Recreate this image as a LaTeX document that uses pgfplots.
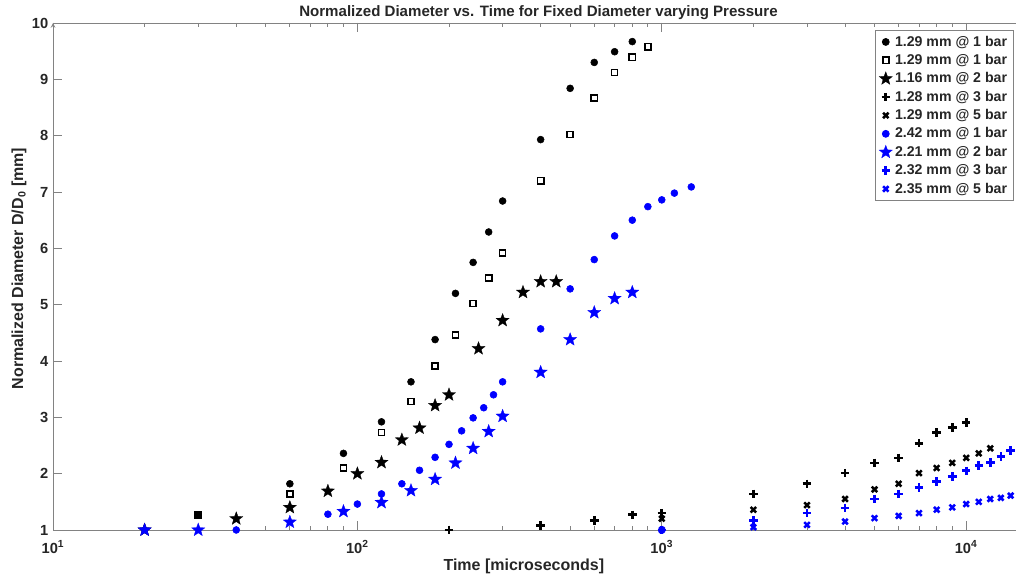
\documentclass[border=0pt]{standalone}
\usepackage{pgfplots}
\pgfplotsset{compat=1.18}
\usepackage{fontspec}
\setmainfont{Liberation Sans}
\definecolor{mblue}{RGB}{0,0,255}
\definecolor{axgray}{RGB}{130,130,130}
\definecolor{txt}{RGB}{38,38,38}
\pgfdeclareplotmark{fstar}{%
  \pgfpathmoveto{\pgfpointpolar{90}{\pgfplotmarksize}}%
  \pgfpathlineto{\pgfpointpolar{126}{0.42\pgfplotmarksize}}%
  \pgfpathlineto{\pgfpointpolar{162}{\pgfplotmarksize}}%
  \pgfpathlineto{\pgfpointpolar{198}{0.42\pgfplotmarksize}}%
  \pgfpathlineto{\pgfpointpolar{234}{\pgfplotmarksize}}%
  \pgfpathlineto{\pgfpointpolar{270}{0.42\pgfplotmarksize}}%
  \pgfpathlineto{\pgfpointpolar{306}{\pgfplotmarksize}}%
  \pgfpathlineto{\pgfpointpolar{342}{0.42\pgfplotmarksize}}%
  \pgfpathlineto{\pgfpointpolar{18}{\pgfplotmarksize}}%
  \pgfpathlineto{\pgfpointpolar{54}{0.42\pgfplotmarksize}}%
  \pgfpathclose
  \pgfusepathqfillstroke
}
\begin{document}
\begin{tikzpicture}
\begin{axis}[
  scale only axis,
  width=722.25pt, height=380.25pt,
  xmode=log,
  xmin=10, xmax=14580,
  ymin=1, ymax=10,
  ytick={1,2,...,10},
  xtick={10,100,1000,10000},
  xticklabels={10\textsuperscript{1},10\textsuperscript{2},10\textsuperscript{3},10\textsuperscript{4}},
  /pgf/number format/assume math mode=true,
  axis x line=box,
  axis y line=left,
  axis line style={axgray, line width=0.6pt},
  every axis x line/.append style={-},
  every axis y line/.append style={-},
  tick style={axgray, line width=0.6pt},
  tick align=inside,
  major tick length=6.5pt,
  minor tick length=3.2pt,
  ticklabel style={font=\bfseries\fontsize{11pt}{13pt}\selectfont, text=txt},
  xticklabel style={yshift=-4.5pt},
  title={\bfseries Normalized Diameter vs. Time for Fixed Diameter varying Pressure},
  title style={font=\fontsize{11.3pt}{13pt}\selectfont, text=txt, at={(axis description cs:0.5,1)}, anchor=center, yshift=1.5pt, xshift=3pt},
  xlabel={\bfseries Time [microseconds]},
  ylabel={\bfseries Normalized Diameter D/D\textsubscript{0} [mm]},
  label style={font=\fontsize{12pt}{14pt}\selectfont, text=txt},
  xlabel style={at={(axis description cs:0.5,0)}, anchor=center, yshift=-27pt, xshift=-8pt},
  ylabel style={at={(axis description cs:0,0.5)}, anchor=center, yshift=25.5pt, xshift=6pt},
  legend style={at={(rel axis cs:0.998,0.986)}, anchor=north east, draw=axgray, line width=0.6pt,
    font=\bfseries\fontsize{10.6pt}{12.4pt}\selectfont, text=txt, row sep=0.6pt, inner xsep=3pt, inner ysep=2pt},
  legend image code/.code={\draw[#1] plot coordinates {(0.3cm,0cm)};},
  legend cell align=left,
  clip=false,
]
% 1.29 mm @ 1 bar (filled circle)
\addplot[only marks, mark=*, mark size=2.6pt, black] coordinates {
(30,1.27) (60,1.82) (90,2.36) (120,2.92) (150,3.63) (180,4.38) (210,5.20) (240,5.75) (270,6.29) (300,6.84) (400,7.93) (500,8.84) (600,9.30) (700,9.49) (800,9.67)};
\addlegendentry{1.29 mm @ 1 bar}
% 1.29 mm @ 1 bar (open square)
\addplot[only marks, mark=square, mark size=2.3pt, black, line width=1.2pt] coordinates {
(30,1.27) (60,1.64) (90,2.10) (120,2.73) (150,3.28) (180,3.91) (210,4.46) (240,5.02) (270,5.47) (300,5.92) (400,7.20) (500,8.02) (600,8.67) (700,9.12) (800,9.39) (900,9.58)};
\addlegendentry{1.29 mm @ 1 bar}
% 1.16 mm @ 2 bar (star)
\addplot[only marks, mark=fstar, mark size=5.2pt, black, mark options={fill=black, line width=0.2pt}] coordinates {
(20,1.00) (40,1.20) (60,1.40) (80,1.69) (100,2.00) (120,2.20) (140,2.60) (160,2.81) (180,3.21) (200,3.40) (250,4.22) (300,4.72) (350,5.22) (400,5.41) (450,5.41)};
\addlegendentry{1.16 mm @ 2 bar}
% 1.28 mm @ 3 bar (plus)
\addplot[only marks, mark=+, mark size=3.2pt, black, line width=2pt] coordinates {
(200,1.00) (400,1.08) (600,1.17) (800,1.27) (1000,1.30) (2000,1.64) (3000,1.82) (4000,2.01) (5000,2.19) (6000,2.28) (7000,2.54) (8000,2.73) (9000,2.82) (10000,2.91)};
\addlegendentry{1.28 mm @ 3 bar}
% 1.29 mm @ 5 bar (x)
\addplot[only marks, mark=x, mark size=2.9pt, black, line width=1.9pt] coordinates {
(1000,1.20) (2000,1.36) (3000,1.44) (4000,1.55) (5000,1.72) (6000,1.82) (7000,2.01) (8000,2.10) (9000,2.19) (10000,2.28) (11000,2.36) (12000,2.45)};
\addlegendentry{1.29 mm @ 5 bar}
% 2.42 mm @ 1 bar (blue circle)
\addplot[only marks, mark=*, mark size=2.6pt, mblue] coordinates {
(40,1.00) (80,1.28) (100,1.46) (120,1.64) (140,1.82) (160,2.06) (180,2.29) (200,2.52) (220,2.76) (240,2.99) (260,3.17) (280,3.40) (300,3.63) (400,4.57) (500,5.28) (600,5.80) (700,6.22) (800,6.50) (900,6.74) (1000,6.86) (1100,6.98) (1250,7.09)};
\addlegendentry{2.42 mm @ 1 bar}
% 2.21 mm @ 2 bar (blue star)
\addplot[only marks, mark=fstar, mark size=5.2pt, mblue, mark options={fill=mblue, line width=0.2pt}] coordinates {
(20,1.00) (30,1.00) (60,1.14) (90,1.33) (120,1.49) (150,1.70) (180,1.90) (210,2.19) (240,2.45) (270,2.75) (300,3.02) (400,3.80) (500,4.38) (600,4.86) (700,5.11) (800,5.22)};
\addlegendentry{2.21 mm @ 2 bar}
% 2.32 mm @ 3 bar (blue plus)
\addplot[only marks, mark=+, mark size=3.2pt, mblue, line width=2pt] coordinates {
(1000,1.00) (2000,1.17) (3000,1.30) (4000,1.39) (5000,1.55) (6000,1.64) (7000,1.75) (8000,1.86) (9000,1.95) (10000,2.05) (11000,2.14) (12000,2.20) (13000,2.30) (14000,2.41)};
\addlegendentry{2.32 mm @ 3 bar}
% 2.35 mm @ 5 bar (blue x)
\addplot[only marks, mark=x, mark size=2.9pt, mblue, line width=1.9pt] coordinates {
(1000,1.00) (2000,1.05) (3000,1.09) (4000,1.15) (5000,1.21) (6000,1.25) (7000,1.30) (8000,1.36) (9000,1.40) (10000,1.46) (11000,1.50) (12000,1.55) (13000,1.57) (14000,1.61)};
\addlegendentry{2.35 mm @ 5 bar}
\end{axis}
\pgfresetboundingbox
\path[use as bounding box] ([xshift=-39.75pt,yshift=-38.25pt]current axis.south west) rectangle ([yshift=17.25pt]current axis.north east);
\end{tikzpicture}
\end{document}
